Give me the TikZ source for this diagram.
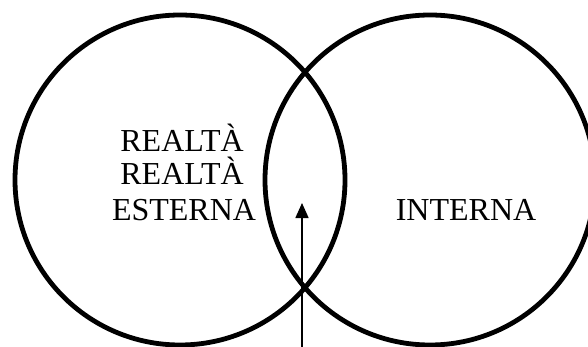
\documentclass[tikz,border=0pt]{standalone}
\usepackage{fontspec}
\setmainfont{Liberation Serif}
\usetikzlibrary{arrows.meta}
\begin{document}
\begin{tikzpicture}[x=1pt,y=-1pt,
  ring/.style={draw=black,line width=4.8pt,circle,minimum size=330pt,inner sep=0pt},
  lbl/.style={font=\fontsize{32}{34}\selectfont,anchor=base,inner sep=0pt},
  pointer/.style={line width=1.6pt,-{Triangle[length=15pt,width=13pt]}}]
\useasboundingbox (0,0) rectangle (588,347);
\node[ring] (left) at (180,180) {};
\node[ring] (right) at (430,180) {};
\node[lbl] (r1) at (182,152) {REALTÀ};
\node[lbl] (r2) at (182,185) {REALTÀ};
\node[lbl] (est) at (184,220) {ESTERNA};
\node[lbl] (int) at (466,220) {INTERNA};
\coordinate (arrstart) at (302,350);
\coordinate (arrtip) at (302,203);
\draw[pointer] (arrstart) -- (arrtip);
\end{tikzpicture}
\end{document}
